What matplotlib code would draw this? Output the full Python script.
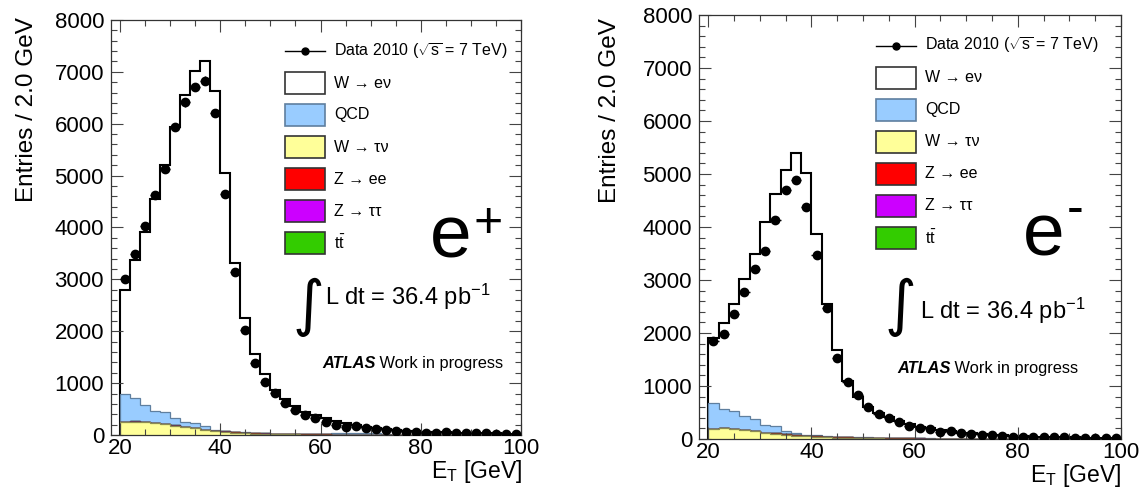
import numpy as np
import matplotlib
matplotlib.use("Agg")
import matplotlib.pyplot as plt
from matplotlib.patches import Rectangle
from matplotlib.ticker import MultipleLocator


FIG_W, FIG_H = 1147, 497

E_MIN, E_MAX, BIN_WIDTH = 20, 100, 2

# ---- e+ panel (entries per 2 GeV bin, 20..100 GeV) ----
mc_total_pos = [2790, 3370, 3920, 4540, 5200, 5930, 6550, 7010, 7210, 6640,
                5050, 3320, 2260, 1560, 1180, 875, 685, 550, 450, 385,
                320, 270, 225, 192, 150, 128, 110, 95, 80, 68,
                60, 54, 50, 44, 40, 37, 34, 31, 28, 26]
data_pos = [3000, 3480, 4030, 4620, 5120, 5940, 6410, 6710, 6830, 6210,
            4640, 3140, 2020, 1390, 1030, 815, 620, 480, 385, 320,
            256, 200, 160, 178, 128, 110, 96, 78, 64, 51,
            45, 44, 55, 33, 32, 33, 32, 28, 25, 25]
qcd_pos = [538, 443, 320, 239, 218, 139, 106, 89, 69, 19,
           4, 3, 16, 3, 2, 2, 2, 2, 2, 3,
           14, 27, 33, 37, 39, 36, 5, 4, 3, 2,
           2, 1, 1, 1, 1, 1, 1, 1, 1, 1]
wtaunu_pos = [244, 256, 244, 224, 212, 180, 147, 128, 96, 77,
              58, 45, 32, 26, 20, 16, 13, 11, 9, 8,
              7, 6, 5, 5, 4, 4, 3, 3, 2, 2,
              2, 2, 2, 1, 1, 1, 1, 1, 1, 1]
zee_pos = [2, 2, 2, 3, 3, 3, 4, 4, 5, 6,
           8, 10, 12, 10, 8, 6, 5, 4, 3, 3,
           3, 2, 2, 2, 2, 2, 2, 1, 1, 1,
           1, 1, 1, 1, 1, 1, 1, 1, 1, 1]
ztautau_pos = [3, 3, 3, 3, 2, 2, 2, 2, 2, 2,
               2, 1, 1, 1, 1, 1, 1, 1, 1, 1,
               1, 0, 0, 0, 0, 0, 0, 0, 0, 0,
               0, 0, 0, 0, 0, 0, 0, 0, 0, 0]
ttbar_pos = [1, 1, 1, 1, 1, 1, 1, 1, 1, 1,
             1, 1, 1, 1, 1, 1, 1, 1, 1, 1,
             1, 1, 1, 1, 1, 1, 1, 1, 1, 1,
             0, 0, 0, 0, 0, 0, 0, 0, 0, 0]

# ---- e- panel ----
mc_total_neg = [1900, 2180, 2545, 3010, 3495, 4090, 4625, 5075, 5395, 5025,
                3870, 2545, 1680, 1100, 785, 595, 482, 407, 345, 282,
                235, 200, 165, 145, 122, 105, 90, 80, 70, 60,
                52, 46, 41, 37, 33, 30, 27, 24, 22, 20]
data_neg = [1850, 1975, 2350, 2765, 3200, 3555, 4140, 4705, 4895, 4380,
            3480, 2475, 1530, 1080, 827, 608, 470, 395, 313, 244,
            200, 185, 130, 150, 112, 88, 78, 70, 63, 44,
            42, 42, 44, 31, 30, 26, 25, 15, 18, 14]
qcd_neg = [481, 353, 324, 253, 229, 148, 143, 54, 47, 17,
           13, 3, 6, 1, 13, 15, 8, 4, 3, 2,
           2, 2, 2, 2, 1, 1, 1, 1, 1, 1,
           1, 1, 1, 1, 1, 1, 1, 1, 1, 1]
wtaunu_neg = [190, 205, 190, 170, 150, 115, 100, 82, 65, 55,
              45, 35, 26, 20, 16, 13, 11, 9, 8, 7,
              6, 5, 4, 4, 3, 3, 2, 2, 2, 2,
              1, 1, 1, 1, 1, 1, 1, 1, 1, 1]
zee_neg = [2, 2, 2, 3, 3, 3, 4, 4, 5, 6,
           8, 10, 12, 10, 8, 6, 5, 4, 3, 3,
           3, 2, 2, 2, 2, 2, 2, 1, 1, 1,
           1, 1, 1, 1, 1, 1, 1, 1, 1, 1]
ztautau_neg = [3, 3, 3, 3, 2, 2, 2, 2, 2, 2,
               2, 1, 1, 1, 1, 1, 1, 1, 1, 1,
               1, 0, 0, 0, 0, 0, 0, 0, 0, 0,
               0, 0, 0, 0, 0, 0, 0, 0, 0, 0]
ttbar_neg = [1, 1, 1, 1, 1, 1, 1, 1, 1, 1,
             1, 1, 1, 1, 1, 1, 1, 1, 1, 1,
             1, 1, 1, 1, 1, 1, 1, 1, 1, 1,
             0, 0, 0, 0, 0, 0, 0, 0, 0, 0]

DATA_LABEL = "Data 2010 ($\\mathregular{\\sqrt{s}}$ = 7 TeV)"
SAMPLE_LABELS = ["W \u2192 e\u03bd", "QCD", "W \u2192 \u03c4\u03bd", "Z \u2192 ee",
                 "Z \u2192 \u03c4\u03c4", "$\\mathregular{t\\bar{t}}$"]

# (face, edge) for the stacked backgrounds, bottom to top
BKG_STYLE = [("#ffff99", "#8c8c50"),   # W -> tau nu
             ("#ff0000", "#7a3a2a"),   # Z -> ee
             ("#cc00ff", "#553366"),   # Z -> tau tau
             ("#33cc00", "#335522"),   # ttbar
             ("#99ccff", "#5f7f9f")]   # QCD
# legend swatch faces, in legend order (W->enu, QCD, W->taunu, Z->ee, Z->tautau, ttbar)
SWATCH_FACES = ["white", "#99ccff", "#ffff99", "#ff0000", "#cc00ff", "#33cc00"]

plt.rcParams["font.family"] = ["Liberation Sans", "DejaVu Sans"]
plt.rcParams["mathtext.fontset"] = "custom"
plt.rcParams["mathtext.rm"] = "Liberation Sans"
plt.rcParams["mathtext.it"] = "Liberation Sans:italic"
plt.rcParams["mathtext.bf"] = "Liberation Sans:bold"


def draw_panel(fig, frame, mc_total, bkgs, data):
    left, top, right, bottom = frame
    ax = fig.add_axes([left / FIG_W, 1 - bottom / FIG_H,
                       (right - left) / FIG_W, (bottom - top) / FIG_H])

    edges = np.arange(E_MIN, E_MAX + BIN_WIDTH, BIN_WIDTH)
    centers = edges[:-1] + BIN_WIDTH / 2
    cum = np.cumsum(np.array(bkgs, dtype=float), axis=0)

    ax.stairs(mc_total, edges, fill=True, facecolor="white", edgecolor="none")
    ax.stairs(mc_total, edges, baseline=0, color="black", lw=1.5)
    for i in reversed(range(len(bkgs))):
        base = cum[i - 1] if i > 0 else 0
        face, edge = BKG_STYLE[i]
        ax.stairs(cum[i], edges, baseline=base, fill=True,
                  facecolor=face, edgecolor=edge, lw=0.9)

    data = np.array(data, dtype=float)
    ax.errorbar(centers, data, xerr=BIN_WIDTH / 2, yerr=np.sqrt(data),
                fmt="o", color="black", ms=6, elinewidth=1, capsize=0, zorder=5)

    ax.set_xlim(18.2, 100)
    ax.set_ylim(0, 8000)
    ax.xaxis.set_major_locator(MultipleLocator(20))
    ax.xaxis.set_minor_locator(MultipleLocator(5))
    ax.yaxis.set_major_locator(MultipleLocator(1000))
    ax.yaxis.set_minor_locator(MultipleLocator(200))
    ax.tick_params(which="both", direction="in", top=True, right=True,
                   width=0.8, color="#444444", labelsize=16)
    ax.tick_params(which="major", length=8.5)
    ax.tick_params(which="minor", length=4.5)
    ax.tick_params(axis="x", pad=2)
    ax.tick_params(axis="y", pad=5)
    for spine in ax.spines.values():
        spine.set_linewidth(0.9)
        spine.set_color("#333333")
    return ax


def draw_annotations(ov, t):
    # legend, drawn by hand so that the rows keep an even pitch
    x0, y0 = t["legend"]
    pitch, box_w, box_h = 32, 40, 22
    ov.plot([x0, x0 + box_w], [y0, y0], color="black", lw=1)
    ov.plot([x0 + box_w / 2], [y0], "o", color="black", ms=5)
    ov.text(x0 + box_w + 9, y0, DATA_LABEL, ha="left", va="center", fontsize=11.5)
    for k, (label, face) in enumerate(zip(SAMPLE_LABELS, SWATCH_FACES), start=1):
        yc = y0 + k * pitch
        edge = "#5f7f9f" if k == 2 else "#333333"
        ov.add_patch(Rectangle((x0, yc - box_h / 2), box_w, box_h,
                               facecolor=face, edgecolor=edge, lw=1.2))
        ov.text(x0 + box_w + 9, yc, label, ha="left", va="center", fontsize=11.5)

    ov.text(*t["ylabel"], "Entries / 2.0 GeV", rotation=90,
            ha="center", va="top", fontsize=17.5)
    ov.text(*t["xlabel"], "E$_{\\mathregular{T}}$ [GeV]",
            ha="right", va="baseline", fontsize=16.5)

    ov.text(*t["charge"], "e", ha="left", va="baseline", fontsize=54)
    ov.text(*t["sign"], t["sign_text"], ha="center", va="center", fontsize=36)

    ov.text(*t["integral"], "\u222b", ha="center", va="center",
            fontsize=44, family=["DejaVu Sans"])
    ov.text(*t["lumi"], "L dt = 36.4 pb$^{\\mathregular{-1}}$",
            ha="left", va="baseline", fontsize=17)

    atlas = ov.text(*t["atlas"], "ATLAS", ha="left", va="baseline",
                    fontsize=11.8, weight="bold", style="italic")
    ov.annotate(" Work in progress", xy=(1, 0), xycoords=atlas,
                ha="left", va="bottom", fontsize=11.8)


def main():
    fig = plt.figure(figsize=(FIG_W / 100, FIG_H / 100), dpi=100)

    draw_panel(fig, (111, 20, 521, 435), mc_total_pos,
               [wtaunu_pos, zee_pos, ztautau_pos, ttbar_pos, qcd_pos], data_pos)
    draw_panel(fig, (699, 15, 1121, 439), mc_total_neg,
               [wtaunu_neg, zee_neg, ztautau_neg, ttbar_neg, qcd_neg], data_neg)

    # overlay in pixel units (origin top-left) for all free-standing labels
    ov = fig.add_axes([0, 0, 1, 1], zorder=10)
    ov.set_xlim(0, FIG_W)
    ov.set_ylim(FIG_H, 0)
    ov.axis("off")
    ov.patch.set_alpha(0)

    draw_annotations(ov, {"legend": (285, 51), "ylabel": (27, 17), "xlabel": (522, 478),
                          "charge": (430, 257), "sign": (488, 224), "sign_text": "+",
                          "integral": (308, 307), "lumi": (325, 305),
                          "atlas": (322, 368)})
    draw_annotations(ov, {"legend": (876, 45.5), "ylabel": (610, 18),
                          "xlabel": (1121, 482),
                          "charge": (1023, 255), "sign": (1075, 210), "sign_text": "-",
                          "integral": (900, 307), "lumi": (920, 319),
                          "atlas": (897, 373)})

    fig.savefig("out.png", dpi=100)


if __name__ == "__main__":
    main()
